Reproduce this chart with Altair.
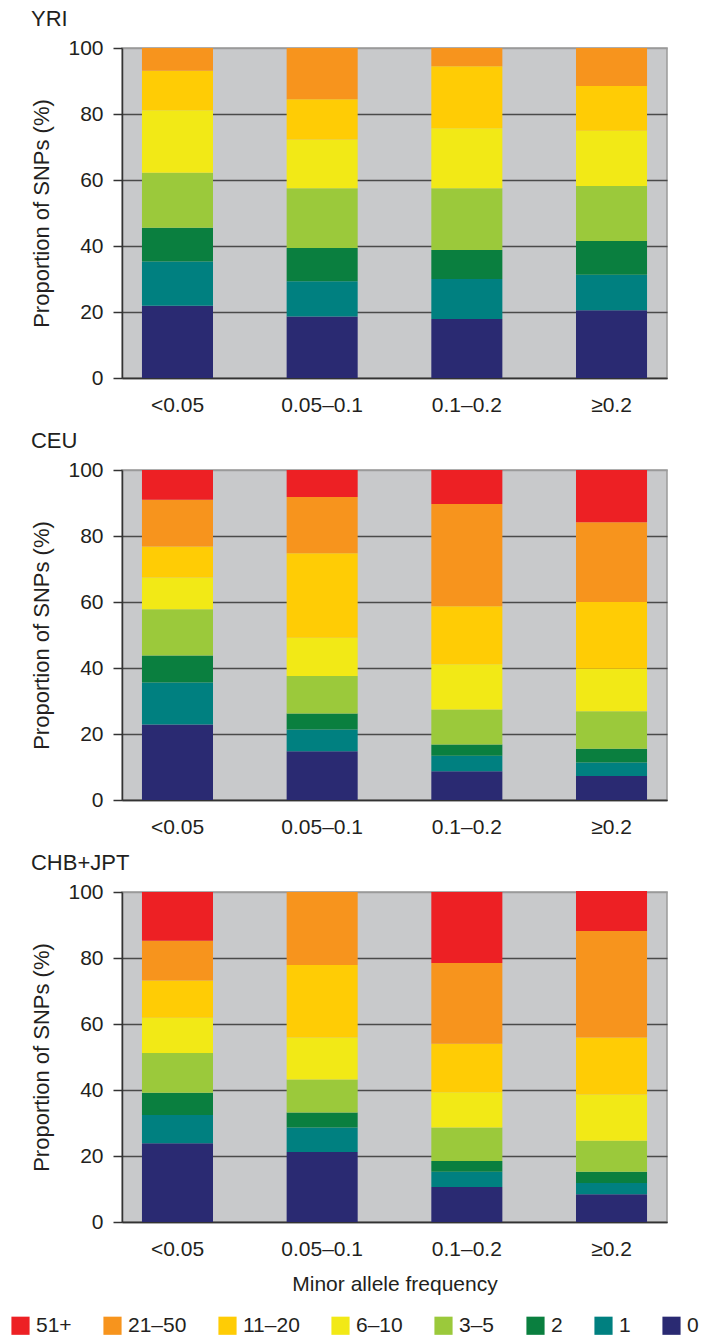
import altair as alt
import pandas as pd

populations = ["YRI", "CEU", "CHB+JPT"]
maf_bins = ["<0.05", "0.05–0.1", "0.1–0.2", "≥0.2"]
classes = ["0", "1", "2", "3–5", "6–10", "11–20", "21–50", "51+"]
legend_order = ["51+", "21–50", "11–20", "6–10", "3–5", "2", "1", "0"]
class_colors = ["#ED2024", "#F7941D", "#FFCC05", "#F2E916", "#9BC93B", "#0A7F3F", "#008080", "#2A2A72"]

# percentages per class (0,1,2,3-5,6-10,11-20,21-50,51+) for each MAF bin
yri = [
    [21.9, 13.4, 10.2, 16.7, 18.9, 12.0, 6.9, 0.0],
    [18.6, 10.7, 10.1, 18.1, 14.8, 12.2, 15.5, 0.0],
    [17.9, 12.1, 8.8, 18.7, 18.2, 18.8, 5.5, 0.0],
    [20.5, 10.8, 10.2, 16.7, 16.7, 13.6, 11.5, 0.0],
]
ceu = [
    [22.9, 12.7, 8.2, 14.0, 9.6, 9.4, 14.2, 9.0],
    [14.8, 6.6, 4.8, 11.4, 11.6, 25.6, 17.0, 8.2],
    [8.7, 4.7, 3.4, 10.6, 13.7, 17.6, 31.0, 10.3],
    [7.3, 4.1, 4.1, 11.4, 12.9, 20.2, 24.2, 15.8],
]
chb_jpt = [
    [23.9, 8.5, 6.8, 12.0, 10.7, 11.3, 12.0, 14.8],
    [21.2, 7.4, 4.6, 10.0, 12.7, 22.0, 22.1, 0.0],
    [10.6, 4.6, 3.3, 10.1, 10.7, 14.7, 24.5, 21.5],
    [8.4, 3.4, 3.4, 9.4, 14.0, 17.3, 32.3, 12.1],
]
y_ticks = [0, 20, 40, 60, 80, 100]

FONT = "Liberation Sans"
TXT = "#231f20"

def make_df(values):
    rows = []
    for i, b in enumerate(maf_bins):
        for k, c in enumerate(classes):
            rows.append({"maf": b, "cls": c, "rank": k, "pct": values[i][k]})
    return pd.DataFrame(rows)

def panel(name, values, last=False):
    df = make_df(values)
    xaxis = alt.Axis(
        title="Minor allele frequency" if last else None,
        labelAngle=0, ticks=False, labelPadding=16,
        domainColor="#333333", domainWidth=1.5,
        labelFontSize=21, titleFontSize=21, titlePadding=14,
        titleFontWeight="normal", labelColor=TXT, titleColor=TXT,
        labelFont=FONT, titleFont=FONT,
    )
    yaxis = alt.Axis(
        title="Proportion of SNPs (%)", values=y_ticks,
        tickSize=9, tickColor="#333333", tickWidth=1.5,
        domainColor="#333333", domainWidth=1.5,
        grid=True, gridWidth=1.5,
        gridColor={"condition": {"test": "datum.value === 100", "value": "#9a9a9a"}, "value": "#4a4a4a"},
        labelFontSize=21, titleFontSize=22, labelPadding=10, titlePadding=14,
        titleFontWeight="normal", labelColor=TXT, titleColor=TXT,
        labelFont=FONT, titleFont=FONT,
    )
    ch = alt.Chart(df).mark_bar(opacity=1).encode(
        x=alt.X("maf:N", sort=maf_bins, axis=xaxis,
                scale=alt.Scale(paddingInner=0.509, paddingOuter=0.138)),
        y=alt.Y("pct:Q", stack="zero", axis=yaxis,
                scale=alt.Scale(domain=[0, 100], nice=False)),
        color=alt.Color("cls:N", scale=alt.Scale(domain=legend_order, range=class_colors),
                        legend=alt.Legend(
                            title=None, orient="none", direction="horizontal",
                            legendX=-112, legendY=1267,
                            symbolType="square", symbolSize=330, symbolStrokeWidth=0,
                            labelFontSize=21, labelFont=FONT, labelColor=TXT,
                            columnPadding=30, labelOffset=5,
                        )),
        order=alt.Order("rank:Q", sort="ascending"),
    ).properties(
        width=545, height=330,
        title=alt.TitleParams(name, anchor="start", fontSize=22, font=FONT,
                              fontWeight="normal", color=TXT, offset=6),
    )
    return ch

chart = alt.vconcat(
    panel("YRI", yri),
    panel("CEU", ceu),
    panel("CHB+JPT", chb_jpt, last=True),
    spacing=13,
).configure_view(
    fill="#c8c9cb", stroke="#9a9a9a", strokeWidth=1.5
).properties(background="white", padding={"left": 10, "top": 7, "right": 0, "bottom": 3})

chart.save("out.html", embed_options={"renderer": "svg", "actions": False})
